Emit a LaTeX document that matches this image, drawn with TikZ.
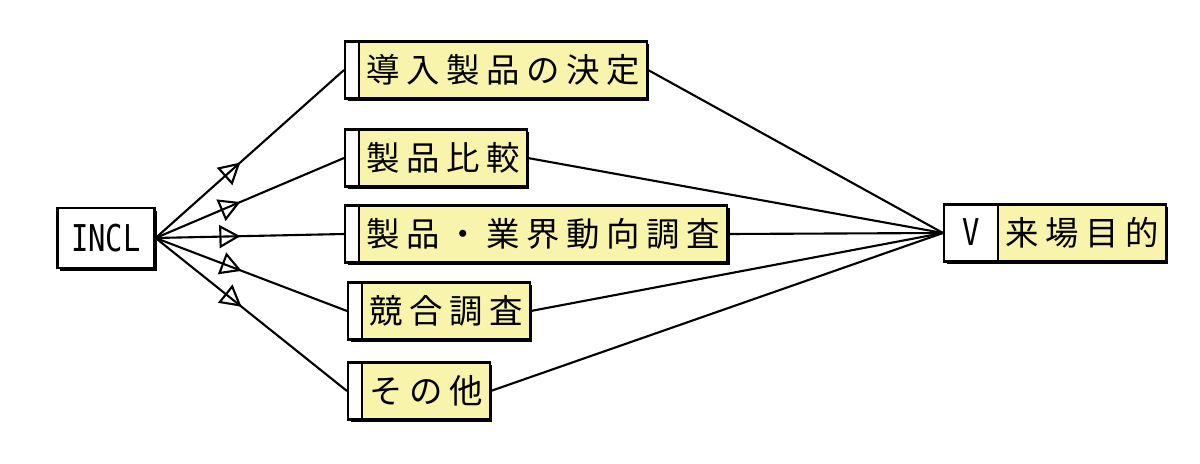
\documentclass[tikz,border=0pt]{standalone}
\usepackage{fontspec}
\newfontfamily\jpfont[LetterSpace=20]{Noto Sans CJK JP}
\newfontfamily\monofont{DejaVu Sans Mono}
\usetikzlibrary{arrows.meta,decorations.markings}
\definecolor{labelyellow}{RGB}{248,244,172}

\tikzset{
  shade box/.style={draw, line width=0.6pt,
    preaction={fill=black, transform canvas={shift={(0.7pt,-0.8pt)}}}},
  label box/.style={shade box, fill=labelyellow, inner xsep=0.07cm, inner ysep=0pt,
    minimum height=0.57cm, anchor=west,
    font=\jpfont\fontsize{9.5}{11}\selectfont,
    execute at begin node={\hspace*{#1}},
    path picture={
      \fill [white] (path picture bounding box.south west)
        rectangle ([xshift=#1]path picture bounding box.north west);
      \draw [line width=0.6pt] ([xshift=#1]path picture bounding box.south west)
        -- ([xshift=#1]path picture bounding box.north west);}},
  label box/.default=0.14cm,
  mono/.style={font=\monofont\fontsize{10.5}{12}\selectfont},
  link/.style={line width=0.6pt, postaction={decorate}, decoration={markings,
    mark=at position 0.45 with {\arrow[line width=0.6pt]{Triangle[open,length=0.21cm,width=0.23cm]}}}},
  goal link/.style={line width=0.6pt}
}

\begin{document}
\begin{tikzpicture}[x=0.01cm,y=-0.01cm]
  \useasboundingbox (0,0) rectangle (1200,464);
  % source and goal
  \node [shade box, fill=white, minimum width=0.97cm, minimum height=0.6cm, mono]
    (incl) at (106,238) {\scalebox{0.78}[1]{INCL}};
  \node [label box=0.54cm] (goal) at (943,233)
    {\llap{\monofont\fontsize{10.5}{12}\selectfont\scalebox{0.78}[1]{V}\hspace{0.25cm}}来場目的};
  % middle steps
  \node [label box] (decide)  at (344,70)  {導入製品の決定};
  \node [label box] (compare) at (344,158) {製品比較};
  \node [label box] (trend)   at (344,234) {製品・業界動向調査};
  \node [label box] (rival)   at (347,311) {競合調査};
  \node [label box] (other)   at (347,391) {その他};
  \foreach \b in {decide,compare,trend,rival,other}{
    \draw [link] (incl.east) -- (\b.west);
    \draw [goal link] (\b.east) -- (goal.west);
  }
\end{tikzpicture}
\end{document}
